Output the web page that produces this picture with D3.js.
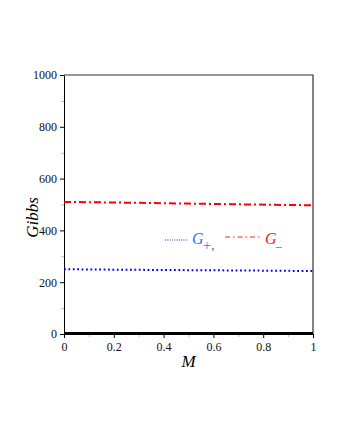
<!DOCTYPE html>
<html>
<head>
<meta charset="utf-8">
<script src="https://cdn.jsdelivr.net/npm/d3@7"></script>
<style>
  body { margin: 0; background: #fff; }
  svg text { font-family: "Liberation Serif", "DejaVu Serif", serif !important; }
</style>
</head>
<body>
<div id="app"></div>
<script>
// data
const mValues = [0, 0.25, 0.5, 0.75, 1];
const gPlus = [250, 248, 246.5, 245, 243];
const gMinus = [510, 507, 503.5, 500, 497];
const gZero = [2, 2, 2, 2, 2];
const xTicks = [0, 0.2, 0.4, 0.6, 0.8, 1];
const xTickLabels = ["0", "0.2", "0.4", "0.6", "0.8", "1"];
const yTicks = [0, 200, 400, 600, 800, 1000];
const xMinor = [0.1, 0.3, 0.5, 0.7, 0.9];
const yMinor = [100, 300, 500, 700, 900];

const serif = '"Liberation Serif", "DejaVu Serif", serif';

const width = 340
    , height = 440
    , margin = { top: 75, right: 27, bottom: 106, left: 64 };

const svg = d3.select("#app").append("svg")
    .attr("width", width)
    .attr("height", height);

const x = d3.scaleLinear().domain([0, 1]).range([margin.left, width - margin.right]);
const y = d3.scaleLinear().domain([0, 1000]).range([height - margin.bottom, margin.top]);

// minor ticks
svg.append("g")
    .attr("transform", `translate(0,${y(0)})`)
    .call(d3.axisBottom(x).tickValues(xMinor).tickSize(3).tickFormat(""))
    .call(g => g.select(".domain").remove())
    .call(g => g.selectAll("line").attr("stroke", "#bbb"));
svg.append("g")
    .attr("transform", `translate(${x(0)},0)`)
    .call(d3.axisLeft(y).tickValues(yMinor).tickSize(3).tickFormat(""))
    .call(g => g.select(".domain").remove())
    .call(g => g.selectAll("line").attr("stroke", "#bbb"));

// major axes
svg.append("g")
    .attr("transform", `translate(0,${y(0)})`)
    .call(d3.axisBottom(x).tickValues(xTicks).tickSize(4).tickSizeOuter(0)
      .tickFormat((d, i) => xTickLabels[i]))
    .attr("font-family", serif)
    .attr("font-size", 12)
    .call(g => g.select(".domain").attr("stroke", "#000"))
    .call(g => g.selectAll("text").style("font-family", serif).attr("fill", "#111").attr("dy", "0.85em"));

svg.append("g")
    .attr("transform", `translate(${x(0)},0)`)
    .call(d3.axisLeft(y).tickValues(yTicks).tickSize(4).tickSizeOuter(0).tickFormat(d3.format("d")))
    .attr("font-family", serif)
    .attr("font-size", 12)
    .call(g => g.select(".domain").attr("stroke", "#000"))
    .call(g => g.selectAll("text").style("font-family", serif).attr("fill", "#111"));

// frame top/right
svg.append("path")
    .attr("d", `M${x(0)},${y(1000)}H${x(1)}V${y(0)}`)
    .attr("fill", "none")
    .attr("stroke", "#333")
    .attr("stroke-width", 1.2);

const line = d3.line()
    .x((d, i) => x(mValues[i]))
    .y(d => y(d));

svg.append("path")
    .datum(gZero)
    .attr("d", line)
    .attr("fill", "none")
    .attr("stroke", "#000")
    .attr("stroke-width", 3);

svg.append("path")
    .datum(gPlus)
    .attr("d", line)
    .attr("fill", "none")
    .attr("stroke", "#0000ff")
    .attr("stroke-width", 2)
    .attr("stroke-dasharray", "1.8,2.6");

svg.append("path")
    .datum(gMinus)
    .attr("d", line)
    .attr("fill", "none")
    .attr("stroke", "#ff0000")
    .attr("stroke-width", 2)
    .attr("stroke-dasharray", "7,3,2,3");

// axis titles
svg.append("text")
    .attr("x", x(0.5))
    .attr("y", 367)
    .attr("text-anchor", "middle")
    .attr("font-size", 17)
    .attr("font-style", "italic")
    .text("M");

svg.append("text")
    .attr("transform", `translate(38,${y(450)}) rotate(-90)`)
    .attr("text-anchor", "middle")
    .attr("font-size", 17)
    .attr("font-style", "italic")
    .text("Gibbs");

// legend
const leg = svg.append("g").attr("transform", "translate(165,240)");
leg.append("line")
    .attr("x1", 0).attr("x2", 23).attr("y1", 0).attr("y2", 0)
    .attr("stroke", "#2030a0")
    .attr("stroke-width", 1.2)
    .attr("stroke-dasharray", "1,1.3");
leg.append("text")
    .attr("x", 27).attr("y", 4)
    .attr("font-size", 16).attr("font-style", "italic")
    .attr("fill", "#3a6ff0")
    .text("G");
leg.append("text")
    .attr("x", 38).attr("y", 10)
    .attr("font-size", 14)
    .attr("fill", "#3a6ff0")
    .text("+,");
leg.append("line")
    .attr("x1", 60).attr("x2", 96).attr("y1", -3).attr("y2", -3)
    .attr("stroke", "#ff2020")
    .attr("stroke-width", 1.2)
    .attr("stroke-dasharray", "5,3,1.5,3");
leg.append("text")
    .attr("x", 100).attr("y", 4)
    .attr("font-size", 16).attr("font-style", "italic")
    .attr("fill", "#ff2020")
    .text("G");
leg.append("text")
    .attr("x", 111).attr("y", 6)
    .attr("font-size", 12)
    .attr("fill", "#ff2020")
    .text("_");
</script>
</body>
</html>
